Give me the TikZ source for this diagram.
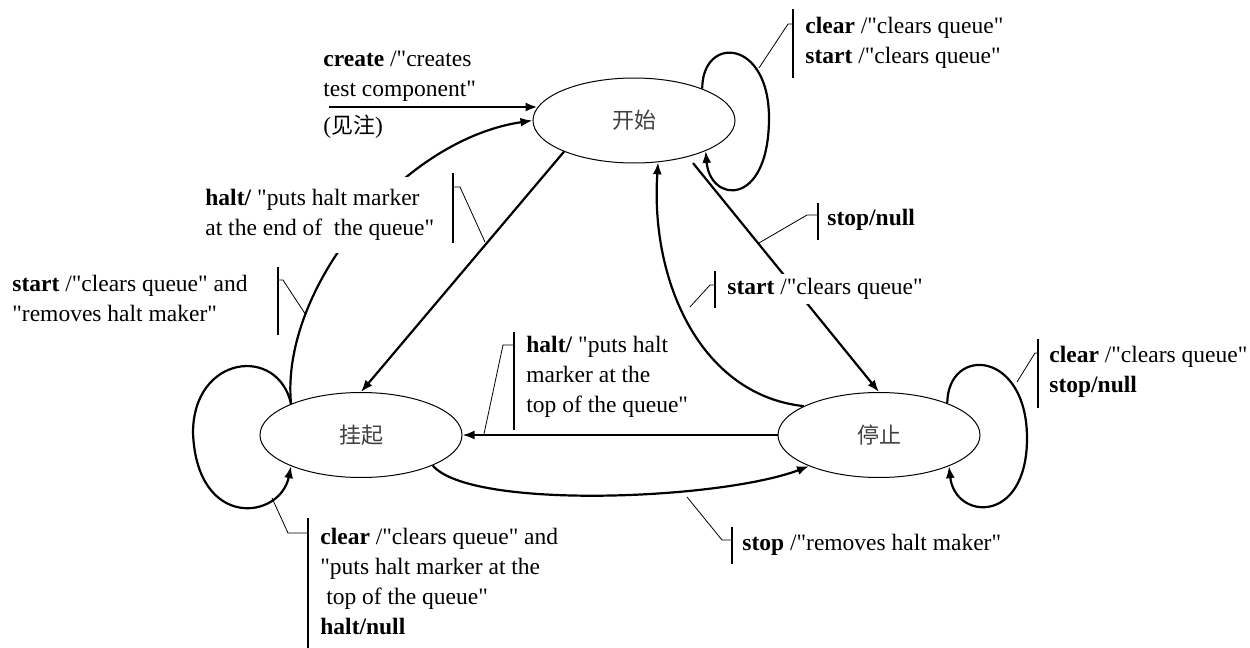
\documentclass[tikz,border=0pt]{standalone}
\usepackage{fontspec}
\setmainfont{Liberation Serif}[Ligatures=TeXOff]
\newfontfamily\cjk{Noto Sans CJK SC}
\usetikzlibrary{shapes.geometric,arrows.meta}
\begin{document}
\begin{tikzpicture}[x=0.5pt,y=-0.5pt,
  font=\fontsize{11.75}{15}\selectfont,
  state/.style={ellipse,draw,line width=0.5pt,minimum width=101pt,minimum height=42.5pt,inner sep=0pt,
    font=\cjk\fontsize{11}{13}\selectfont,text=black!75},
  edge/.style={line width=1.1pt,-{Latex[length=6pt,width=4.5pt]}},
  lbl/.style={anchor=west,align=left,inner sep=0pt,fill=white},
  bar/.style={line width=1pt},
  leader/.style={line width=0.4pt}]
\useasboundingbox (0,0) rectangle (1250,648);
\fill[white] (0,0) rectangle (1250,648);

% states
\node[state] (S) at (634,120.5) {开始};
\node[state] (H) at (361,435) {挂起};
\node[state] (T) at (879,435) {停止};

% transitions
\coordinate (cin) at (329,107);
\draw[edge,line width=1.3pt] (cin) -- (cin -| S.172);
\draw[edge] (H.156) .. controls (280,290) and (400,140) .. (S.180) coordinate[pos=0.25] (q6);
\draw[edge] (S.204) -- (H.north);
\draw[edge] (S.25) .. controls (702,35) and (770,38) .. (769,120) .. controls (768,208) and (710,203) .. (S.-23);
\draw[edge,shorten <=4pt] (S.-34) -- (T.north);
\draw[edge] (T.159.5) .. controls (700,395) and (650,280) .. (S.-60);
\draw[edge] (T.west) -- (H.east);
\draw[edge] (H.-23) .. controls (470,510) and (720,500) .. (T.204);
\draw[edge] (H.156) .. controls (278,345) and (193,355) .. (193,433) .. controls (197,530) and (280,520) .. (H.204);
\draw[edge] (T.25) .. controls (948,345) and (1028,350) .. (1027,440) .. controls (1026,525) and (955,520) .. (T.-24);

% labels
\node[lbl] (lcreate) at (323,76) {\textbf{create} /"creates\\test component"};
\node[anchor=west,inner sep=0pt] (lnote) at (323,127) {({\cjk\fontsize{11}{13}\selectfont 见注})};

\node[lbl] (l1) at (805,42.5) {\textbf{clear} /"clears queue"\\\textbf{start} /"clears queue"};
\node[lbl] (l2) at (827,220) {\textbf{stop/null}};
\node[lbl,inner ysep=2pt] (l3) at (727,289) {\textbf{start} /"clears queue"};
\node[lbl] (l4) at (526,377) {\textbf{halt/} "puts halt\\marker at the\\top of the queue"};
\node[lbl,inner ysep=6pt] (l5) at (205,215) {\textbf{halt/} "puts halt marker\\at the end of\ \ the queue"};
\node[lbl] (l6) at (12,298) {\textbf{start} /"clears queue" and\\"removes halt maker"};
\node[lbl] (l7) at (320,581) {\textbf{clear} /"clears queue" and\\"puts halt marker at the\\\hspace*{0.25em}top of the queue"\\\textbf{halt/null}};
\node[lbl] (l8) at (1049,372) {\textbf{clear} /"clears queue"\\\textbf{stop/null}};
\node[lbl] (l9) at (742,545) {\textbf{stop} /"removes halt maker"};

% label bars
\draw[bar] (793,9) -- (793,78);
\draw[bar] (818,203) -- (818,240);
\draw[bar] (715,271) -- (715,308);
\draw[bar] (514,332) -- (514,430);
\draw[bar] (453,173) -- (453,243);
\draw[bar] (278,267) -- (278,335);
\draw[bar] (308,518) -- (308,648);
\draw[bar] (1038,339) -- (1038,408);
\draw[bar] (732,527) -- (732,564);

% leaders
\coordinate (q1) at (759,68);
\coordinate (q2) at (759,243);
\coordinate (q3) at (690,307);
\coordinate (q4) at (484,434);
\coordinate (q5) at (485,242);
\coordinate (q7) at (272,498);
\coordinate (q8) at (1017,382);
\coordinate (q9) at (687,497);
\draw[leader] (q1) -- (788,24) -- (793,24);
\draw[leader] (q2) -- (807,215) -- (818,215);
\draw[leader] (q3) -- (710,285) -- (715,285);
\draw[leader] (q4) -- (503,345) -- (514,345);
\draw[leader] (q5) -- (460,187) -- (453,187);
\draw[leader] (q6) -- (283,280) -- (278,280);
\draw[leader] (q7) -- (288,533) -- (308,533);
\draw[leader] (q8) -- (1035,353) -- (1038,353);
\draw[leader] (q9) -- (722,540) -- (732,540);
\end{tikzpicture}
\end{document}
